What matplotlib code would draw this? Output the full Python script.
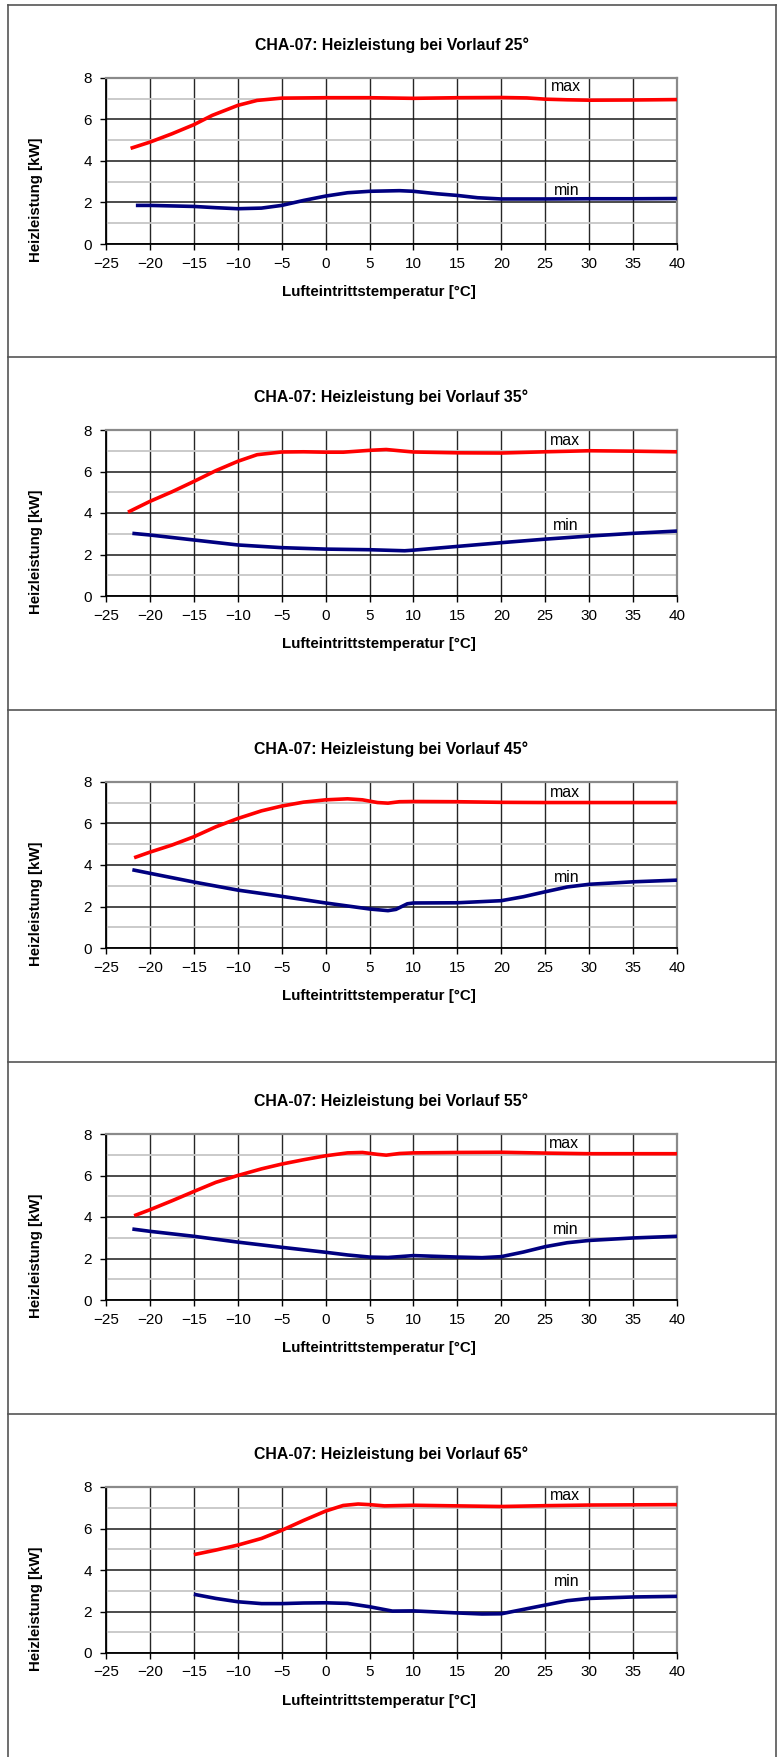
import matplotlib
matplotlib.use("Agg")
import matplotlib.pyplot as plt
from matplotlib.lines import Line2D
from matplotlib.ticker import MultipleLocator

# ── Data ─────────────────────────────────────────────────────────────────────

vorlauf = [25, 35, 45, 55, 65]

x_max_25 = [-22.2, -20, -17.5, -15, -12.9, -10, -7.8, -5, 0, 5, 10, 15, 20, 22.9, 25, 27.5, 30, 35, 40]
y_max_25 = [4.61, 4.91, 5.31, 5.75, 6.20, 6.68, 6.92, 7.03, 7.05, 7.05, 7.02, 7.05, 7.06, 7.04, 6.98, 6.95, 6.93, 6.94, 6.96]
x_min_25 = [-21.6, -20, -15, -12.5, -10, -7.3, -5, -2.5, 0, 2.5, 5, 8.4, 10, 12.7, 15, 17.3, 20, 25, 30, 35, 40]
y_min_25 = [1.86, 1.86, 1.81, 1.75, 1.70, 1.73, 1.86, 2.10, 2.31, 2.47, 2.54, 2.57, 2.54, 2.42, 2.34, 2.23, 2.17, 2.17, 2.18, 2.18, 2.19]

x_max_35 = [-22.5, -20, -17.5, -15, -12.5, -10, -7.8, -5, -2.5, 0, 2, 5, 6.9, 8.4, 10, 15, 20, 25, 30, 35, 40]
y_max_35 = [4.04, 4.56, 5.02, 5.52, 6.04, 6.49, 6.81, 6.94, 6.95, 6.93, 6.93, 7.02, 7.06, 7.00, 6.94, 6.90, 6.89, 6.95, 7.00, 6.98, 6.95]
x_min_35 = [-22, -20, -15, -10, -5, 0, 5, 9, 10, 15, 20, 25, 30, 35, 40]
y_min_35 = [3.02, 2.94, 2.70, 2.46, 2.33, 2.26, 2.23, 2.18, 2.21, 2.39, 2.57, 2.74, 2.89, 3.02, 3.13]

x_max_45 = [-21.8, -20, -17.5, -15, -12.5, -10, -7.3, -5, -2.5, 0, 2.5, 4.2, 5.9, 7.1, 8.4, 10, 15, 20, 25, 30, 35, 40]
y_max_45 = [4.35, 4.62, 4.96, 5.36, 5.84, 6.24, 6.61, 6.84, 7.03, 7.14, 7.19, 7.14, 7.01, 6.98, 7.05, 7.06, 7.05, 7.02, 7.01, 7.01, 7.01, 7.01]
x_min_45 = [-22, -20, -15, -10, -5, 0, 5, 7.1, 8, 9.3, 10, 15, 20, 22.5, 25, 27.5, 30, 35, 40]
y_min_45 = [3.77, 3.60, 3.18, 2.79, 2.49, 2.17, 1.88, 1.80, 1.86, 2.13, 2.17, 2.18, 2.28, 2.47, 2.71, 2.94, 3.07, 3.19, 3.27]

x_max_55 = [-21.8, -20, -17.5, -15, -12.5, -10, -7.3, -5, -2.5, 0, 2.5, 4.2, 5.9, 6.9, 8.4, 10, 15, 20, 25, 30, 35, 40]
y_max_55 = [4.06, 4.35, 4.78, 5.23, 5.67, 6.00, 6.32, 6.55, 6.76, 6.95, 7.09, 7.11, 7.02, 6.98, 7.06, 7.09, 7.11, 7.12, 7.08, 7.05, 7.05, 7.05]
x_min_55 = [-22, -20, -15, -10, -5, 0, 2.5, 5, 7.1, 10, 15, 17.8, 20, 22.5, 25, 27.5, 30, 35, 40]
y_min_55 = [3.42, 3.31, 3.07, 2.79, 2.54, 2.30, 2.17, 2.07, 2.05, 2.14, 2.07, 2.04, 2.09, 2.31, 2.57, 2.76, 2.87, 2.99, 3.07]

x_max_65 = [-15, -12.5, -10, -7.3, -5, -2.5, 0, 2, 3.7, 5, 6.7, 10, 15, 20, 25, 30, 35, 40]
y_max_65 = [4.74, 4.96, 5.20, 5.52, 5.91, 6.39, 6.84, 7.11, 7.18, 7.15, 7.09, 7.12, 7.09, 7.06, 7.10, 7.13, 7.14, 7.15]
x_min_65 = [-15, -12.5, -10, -7.3, -5, -2.5, 0, 2.5, 5, 7.6, 10, 15, 17.8, 20, 22.5, 25, 27.5, 30, 35, 40]
y_min_65 = [2.83, 2.63, 2.47, 2.38, 2.38, 2.41, 2.42, 2.39, 2.23, 2.02, 2.03, 1.93, 1.88, 1.89, 2.10, 2.31, 2.52, 2.63, 2.70, 2.73]

series = [
    (x_max_25, y_max_25, x_min_25, y_min_25),
    (x_max_35, y_max_35, x_min_35, y_min_35),
    (x_max_45, y_max_45, x_min_45, y_min_45),
    (x_max_55, y_max_55, x_min_55, y_min_55),
    (x_max_65, y_max_65, x_min_65, y_min_65),
]

x_ticks = list(range(-25, 41, 5))
y_ticks = [0, 2, 4, 6, 8]

# label anchors for "max"/"min" (data coords)
max_label_pos = [(27.4, 7.57), (27.3, 7.47), (27.3, 7.48), (27.1, 7.52), (27.3, 7.6)]
min_label_pos = [(27.4, 2.60), (27.3, 3.42), (27.4, 3.39), (27.3, 3.42), (27.4, 3.44)]

# ── Layout (pixels) ──────────────────────────────────────────────────────────

W, H, DPI = 781, 1757, 100
AX_LEFT, AX_RIGHT, AX_H = 106, 677, 166
ax_tops = [78, 430, 782, 1134, 1487]
separators = [5, 357, 710, 1062, 1414]
BORDER_L, BORDER_R = 8, 776
BORDER_COLOR = "#555555"

plt.rcParams["font.family"] = ["Liberation Sans", "DejaVu Sans"]


def fx(px):
    return px / W


def fy(py):
    return 1 - py / H


def build_panel(fig, top, temp, xs_max, ys_max, xs_min, ys_min, pmax, pmin):
    ax = fig.add_axes([fx(AX_LEFT), fy(top + AX_H), fx(AX_RIGHT - AX_LEFT), AX_H / H])
    ax.set_xlim(-25, 40)
    ax.set_ylim(0, 8)
    ax.set_xticks(x_ticks)
    ax.set_yticks(y_ticks)
    ax.yaxis.set_minor_locator(MultipleLocator(1))
    ax.tick_params(axis="y", which="minor", length=0)

    ax.grid(True, axis="x", which="major", color="#262626", linewidth=1.0, zorder=1)
    ax.grid(True, axis="y", which="major", color="#1a1a1a", linewidth=1.1, zorder=1)
    ax.grid(True, axis="y", which="minor", color="#c6c6c6", linewidth=1.3, zorder=1)
    ax.set_axisbelow(True)

    for side in ("top", "right"):
        ax.spines[side].set_color("#8a8a8a")
        ax.spines[side].set_linewidth(1.6)
    for side in ("left", "bottom"):
        ax.spines[side].set_color("#000000")
        ax.spines[side].set_linewidth(1.3)

    ax.tick_params(axis="both", which="major", direction="out", length=4, width=1.0,
                   color="#000000", labelsize=11, labelcolor="#000000")
    ax.tick_params(axis="x", pad=5)
    ax.tick_params(axis="y", pad=6)

    ax.plot(xs_max, ys_max, color="#ff0000", linewidth=2.6, solid_capstyle="butt",
            solid_joinstyle="round", zorder=3)
    ax.plot(xs_min, ys_min, color="#000080", linewidth=2.6, solid_capstyle="butt",
            solid_joinstyle="round", zorder=3)

    ax.text(pmax[0], pmax[1], "max", ha="center", va="center", fontsize=11.4, zorder=4)
    ax.text(pmin[0], pmin[1], "min", ha="center", va="center", fontsize=11.4, zorder=4)

    cx = (AX_LEFT + AX_RIGHT) / 2
    fig.text(fx(cx), fy(top - 33), f"CHA-07: Heizleistung bei Vorlauf {temp}°",
             ha="center", va="center", fontsize=11.4, fontweight="bold")
    fig.text(fx(379), fy(top + AX_H + 48), "Lufteintrittstemperatur [°C]",
             ha="center", va="center", fontsize=10.9, fontweight="bold")
    fig.text(fx(36), fy(top + 122), "Heizleistung [kW]", rotation=90,
             ha="center", va="center", fontsize=10.8, fontweight="bold")
    return ax


fig = plt.figure(figsize=(W / DPI, H / DPI), dpi=DPI)
fig.patch.set_facecolor("white")

for top, temp, (xa, ya, xb, yb), pmax, pmin in zip(ax_tops, vorlauf, series, max_label_pos, min_label_pos):
    build_panel(fig, top, temp, xa, ya, xb, yb, pmax, pmin)

# panel frames
for py in separators:
    fig.add_artist(Line2D([fx(BORDER_L), fx(BORDER_R)], [fy(py), fy(py)],
                          color=BORDER_COLOR, linewidth=1.2))
for px in (BORDER_L, BORDER_R):
    fig.add_artist(Line2D([fx(px), fx(px)], [fy(separators[0]), 0],
                          color=BORDER_COLOR, linewidth=1.2))

fig.savefig("out.png", dpi=DPI)
